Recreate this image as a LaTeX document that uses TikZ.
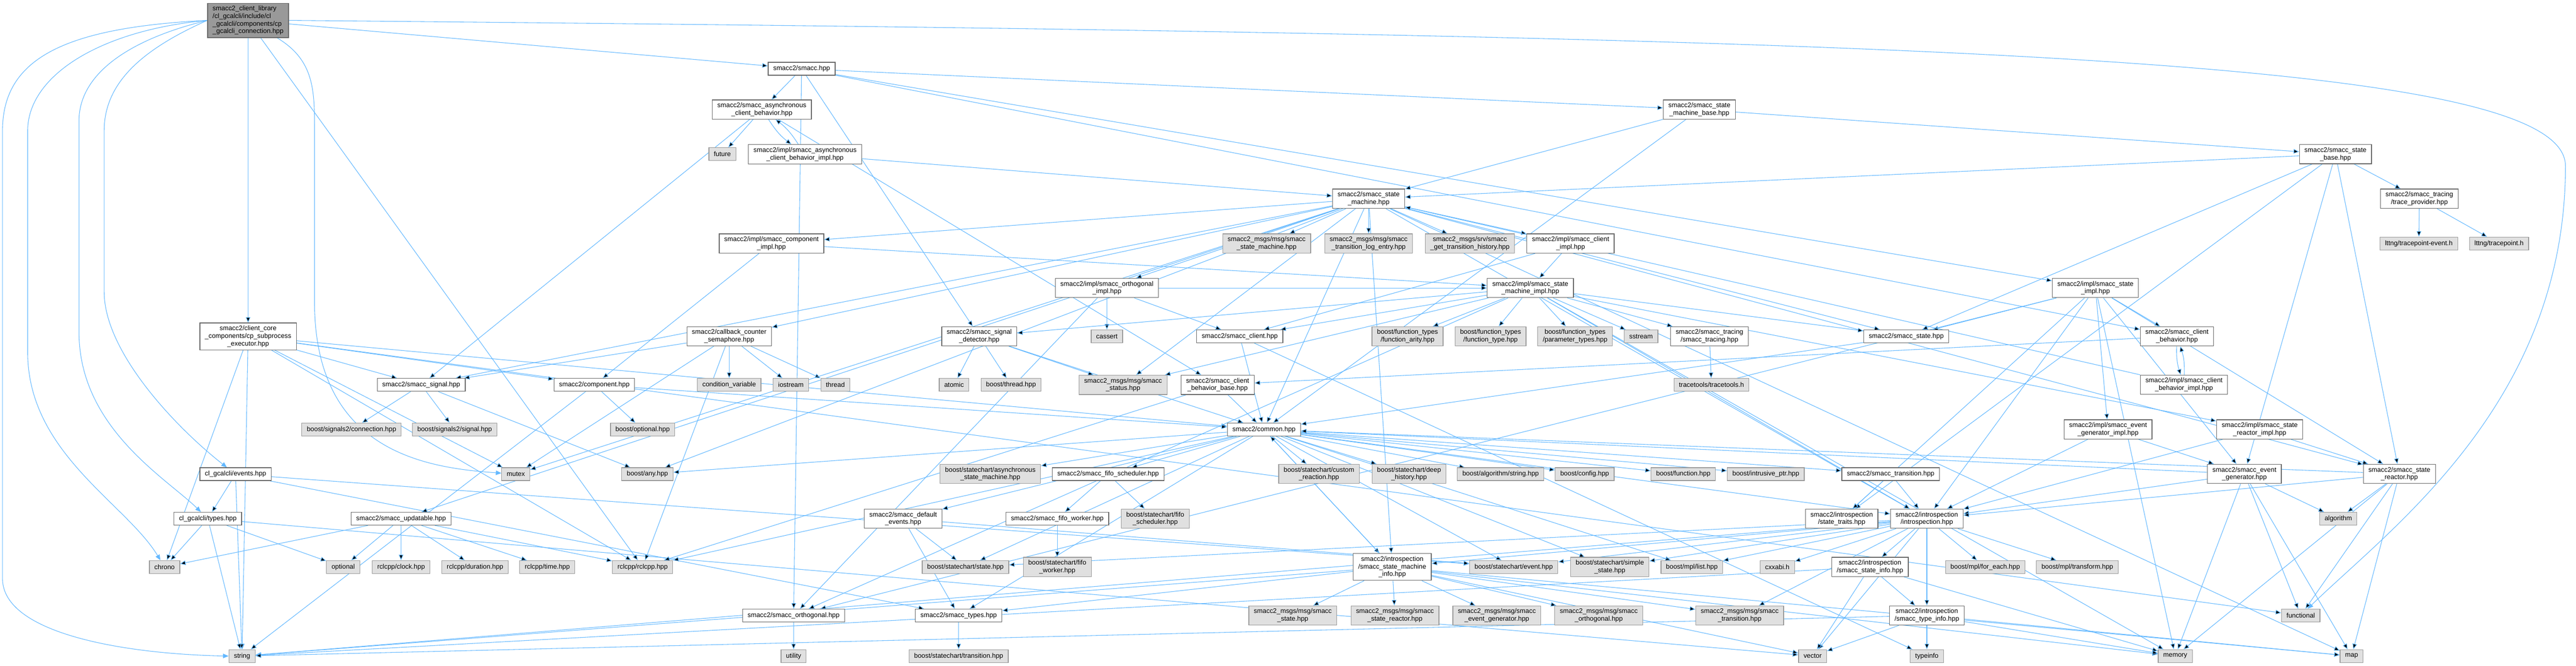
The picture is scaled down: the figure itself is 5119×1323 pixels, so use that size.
\documentclass[tikz,border=0pt]{standalone}
\usepackage{fontspec}
\setmainfont{Liberation Sans}
\usepackage{tikz}
\usetikzlibrary{arrows.meta,positioning,backgrounds}
\definecolor{nodeedge}{HTML}{666666}
\definecolor{sysfill}{HTML}{E0E0E0}
\definecolor{sysedge}{HTML}{999999}
\definecolor{rootfill}{HTML}{999999}
\definecolor{linkblue}{HTML}{63B8FF}
\newcommand{\dxfont}{\fontsize{13.2}{15}\selectfont}
\tikzset{
    block/.style = {draw=nodeedge, fill=white, rectangle, line width=1.3pt, inner xsep=10pt, inner ysep=5.5pt, minimum height=25.6pt, align=center, font=\dxfont},
    sysblock/.style = {block, draw=sysedge, fill=sysfill},
    rootblock/.style = {block, draw=nodeedge, fill=rootfill, align=left},
    arrow/.style = {draw=linkblue, line width=1.1pt, -{Triangle[length=11pt,width=9pt]}},
}
\begin{document}
\begin{tikzpicture}[x=1pt, y=-1pt]
    \useasboundingbox (0,0) rectangle (5119,1323);
    % include files
    \node [rootblock] (root) at (493,40.5) {smacc2\_client\_library\\/cl\_gcalcli/include/cl\\\_gcalcli/components/cp\\\_gcalcli\_connection.hpp};
    \node [block] (smacc) at (1593,136.8) {smacc2/smacc.hpp};
    \node [block] (asyncb) at (1514,217.7) {smacc2/smacc\_asynchronous\\\_client\_behavior.hpp};
    \node [sysblock] (future) at (1435.5,306.4) {future};
    \node [block] (asyncbimpl) at (1599.7,306.6) {smacc2/impl/smacc\_asynchronous\\\_client\_behavior\_impl.hpp};
    \node [block] (compimpl) at (1533,484) {smacc2/impl/smacc\_component\\\_impl.hpp};
    \node [block] (cbsem) at (1449,668.4) {smacc2/callback\_counter\\\_semaphore.hpp};
    \node [block] (cpsub) at (493,668.7) {smacc2/client\_core\\\_components/cp\_subprocess\\\_executor.hpp};
    \node [sysblock] (sigconn) at (698.5,853.7) {boost/signals2/connection.hpp};
    \node [sysblock] (sigsig) at (903.5,853.7) {boost/signals2/signal.hpp};
    \node [block] (signal) at (837,765) {smacc2/smacc\_signal.hpp};
    \node [block] (events) at (468,942.5) {cl\_gcalcli/events.hpp};
    \node [block] (types) at (413,1031) {cl\_gcalcli/types.hpp};
    \node [block] (updatable) at (797,1031) {smacc2/smacc\_updatable.hpp};
    \node [sysblock] (chrono) at (327,1127) {chrono};
    \node [sysblock] (optional) at (682,1127) {optional};
    \node [sysblock] (clock) at (797,1127) {rclcpp/clock.hpp};
    \node [sysblock] (string) at (481,1304) {string};
    \node [block] (component) at (1181,765) {smacc2/component.hpp};
    \node [sysblock] (condvar) at (1449,765) {condition\_variable};
    \node [sysblock] (iostream) at (1571.7,765) {iostream};
    \node [sysblock] (thread) at (1660,765) {thread};
    \node [sysblock] (boptional) at (1277,853.7) {boost/optional.hpp};
    \node [sysblock] (mutex) at (1025,942.5) {mutex};
    \node [sysblock] (bany) at (1286.5,942.5) {boost/any.hpp};
    \node [sysblock] (duration) at (944,1127) {rclcpp/duration.hpp};
    \node [sysblock] (time) at (1087.6,1127) {rclcpp/time.hpp};
    \node [sysblock] (rclcpp) at (1277,1127) {rclcpp/rclcpp.hpp};
    \node [block] (orthogonal) at (1577,1223.4) {smacc2/smacc\_orthogonal.hpp};
    \node [sysblock] (utility) at (1577,1304) {utility};
    \node [sysblock] (msgsm) at (2517,484) {smacc2\_msgs/msg/smacc\\\_state\_machine.hpp};
    \node [block] (orthimpl) at (2199.6,572.4) {smacc2/impl/smacc\_orthogonal\\\_impl.hpp};
    \node [block] (sigdet) at (1946,668.5) {smacc2/smacc\_signal\\\_detector.hpp};
    \node [sysblock] (cassert) at (2199.6,668.5) {cassert};
    \node [block] (client) at (2463.6,668.5) {smacc2/smacc\_client.hpp};
    \node [sysblock] (atomic) at (1895.8,765) {atomic};
    \node [sysblock] (bthread) at (2009,765) {boost/thread.hpp};
    \node [sysblock] (status) at (2231.7,765) {smacc2\_msgs/msg/smacc\\\_status.hpp};
    \node [block] (cbbase) at (2419.5,765) {smacc2/smacc\_client\\\_behavior\_base.hpp};
    \node [block] (common) at (2511.7,853.7) {smacc2/common.hpp};
    \node [sysblock] (asyncsm) at (1968,942) {boost/statechart/asynchronous\\\_state\_machine.hpp};
    \node [block] (fifosched) at (2202,942.5) {smacc2/smacc\_fifo\_scheduler.hpp};
    \node [block] (defevents) at (1794.6,1031) {smacc2/smacc\_default\\\_events.hpp};
    \node [block] (fifoworker) at (2101,1031) {smacc2/smacc\_fifo\_worker.hpp};
    \node [sysblock] (bfifosched) at (2295.6,1031) {boost/statechart/fifo\\\_scheduler.hpp};
    \node [sysblock] (state) at (1918.5,1127) {boost/statechart/state.hpp};
    \node [sysblock] (bfifoworker) at (2101,1127) {boost/statechart/fifo\\\_worker.hpp};
    \node [block] (stypes) at (1905,1223.4) {smacc2/smacc\_types.hpp};
    \node [sysblock] (transition) at (1905,1304) {boost/statechart/transition.hpp};
    \node [sysblock] (msgstate) at (2569,1223.4) {smacc2\_msgs/msg/smacc\\\_state.hpp};
    \node [sysblock] (custom) at (2621,942) {boost/statechart/custom\\\_reaction.hpp};
    \node [block] (smbase) at (3377,217.7) {smacc2/smacc\_state\\\_machine\_base.hpp};
    \node [block] (sm) at (2719.7,395) {smacc2/smacc\_state\\\_machine.hpp};
    \node [sysblock] (logentry) at (2719.7,484) {smacc2\_msgs/msg/smacc\\\_transition\_log\_entry.hpp};
    \node [sysblock] (gethist) at (2921,484) {smacc2\_msgs/srv/smacc\\\_get\_transition\_history.hpp};
    \node [block] (clientimpl) at (3121,484) {smacc2/impl/smacc\_client\\\_impl.hpp};
    \node [block] (smimpl) at (3041,572.4) {smacc2/impl/smacc\_state\\\_machine\_impl.hpp};
    \node [sysblock] (farity) at (2797,668.5) {boost/function\_types\\/function\_arity.hpp};
    \node [sysblock] (ftype) at (2962,668.5) {boost/function\_types\\/function\_type.hpp};
    \node [sysblock] (ptypes) at (3130,668.5) {boost/function\_types\\/parameter\_types.hpp};
    \node [sysblock] (sstream) at (3261,668.5) {sstream};
    \node [block] (tracing) at (3397,668.5) {smacc2/smacc\_tracing\\/smacc\_tracing.hpp};
    \node [sysblock] (tracetools) at (3401,765) {tracetools/tracetools.h};
    \node [sysblock] (deephist) at (2800,942) {boost/statechart/deep\\\_history.hpp};
    \node [sysblock] (algstring) at (2982,942.5) {boost/algorithm/string.hpp};
    \node [sysblock] (config) at (3149,942.5) {boost/config.hpp};
    \node [sysblock] (function) at (3345,942.5) {boost/function.hpp};
    \node [sysblock] (intrusive) at (3509,942.5) {boost/intrusive\_ptr.hpp};
    \node [block] (smtrans) at (3757,942.5) {smacc2/smacc\_transition.hpp};
    \node [block] (sminfo) at (2766.6,1127) {smacc2/introspection\\/smacc\_state\_machine\\\_info.hpp};
    \node [sysblock] (event) at (3008,1127) {boost/statechart/event.hpp};
    \node [sysblock] (simple) at (3199,1127) {boost/statechart/simple\\\_state.hpp};
    \node [sysblock] (mpllist) at (3362,1127) {boost/mpl/list.hpp};
    \node [sysblock] (msgreactor) at (2772,1223.4) {smacc2\_msgs/msg/smacc\\\_state\_reactor.hpp};
    \node [sysblock] (msgevgen) at (2974.5,1223.4) {smacc2\_msgs/msg/smacc\\\_event\_generator.hpp};
    \node [sysblock] (msgorth) at (3177,1223.4) {smacc2\_msgs/msg/smacc\\\_orthogonal.hpp};
    \node [sysblock] (msgtrans) at (3457,1223.4) {smacc2\_msgs/msg/smacc\\\_transition.hpp};
    \node [block] (sstate) at (3788,668.5) {smacc2/smacc\_state.hpp};
    \node [block] (evgenimpl) at (4189,853.5) {smacc2/impl/smacc\_event\\\_generator\_impl.hpp};
    \node [block] (traits) at (3659.7,1031) {smacc2/introspection\\/state\_traits.hpp};
    \node [block] (intro) at (3829,1031) {smacc2/introspection\\/introspection.hpp};
    \node [sysblock] (cxxabi) at (3531.8,1127) {cxxabi.h};
    \node [block] (stateinfo) at (3716,1127) {smacc2/introspection\\/smacc\_state\_info.hpp};
    \node [sysblock] (foreach) at (3945,1127) {boost/mpl/for\_each.hpp};
    \node [sysblock] (mpltransform) at (4128,1127) {boost/mpl/transform.hpp};
    \node [block] (typeinfoh) at (3829,1223.4) {smacc2/introspection\\/smacc\_type\_info.hpp};
    \node [sysblock] (vector) at (3602,1304) {vector};
    \node [sysblock] (typeinfo) at (3829,1304) {typeinfo};
    \node [block] (cb) at (4326,668.5) {smacc2/smacc\_client\\\_behavior.hpp};
    \node [block] (cbimpl) at (4340,764.7) {smacc2/impl/smacc\_client\\\_behavior\_impl.hpp};
    \node [block] (stateimpl) at (4164,572.4) {smacc2/impl/smacc\_state\\\_impl.hpp};
    \node [block] (statebase) at (4641,306.5) {smacc2/smacc\_state\\\_base.hpp};
    \node [block] (traceprov) at (4807.7,395) {smacc2/smacc\_tracing\\/trace\_provider.hpp};
    \node [sysblock] (tpevent) at (4806.6,484) {lttng/tracepoint-event.h};
    \node [sysblock] (tracepoint) at (4966,484) {lttng/tracepoint.h};
    \node [block] (srimpl) at (4490.4,853.5) {smacc2/impl/smacc\_state\\\_reactor\_impl.hpp};
    \node [block] (evgen) at (4460,942) {smacc2/smacc\_event\\\_generator.hpp};
    \node [block] (sreactor) at (4768,942) {smacc2/smacc\_state\\\_reactor.hpp};
    \node [sysblock] (algorithm) at (4646.5,1031) {algorithm};
    \node [sysblock] (functional) at (4572,1223.4) {functional};
    \node [sysblock] (memory) at (4322.6,1304) {memory};
    \node [sysblock] (map) at (4673,1304) {map};

    \begin{pgfonlayer}{background}
    % includes of the root file
    \draw [arrow] (root) edge (cpsub) edge (smacc) edge (rclcpp);
    \draw [arrow] (root.west) .. controls (120,55) and (5,120) .. (5,260) -- (5,1150) .. controls (5,1260) and (250,1300) .. (string.west);
    \draw [arrow] (root.west) .. controls (200,60) and (55,150) .. (55,260) -- (55,700) .. controls (55,900) and (250,1000) .. (chrono);
    \draw [arrow] (root.west) .. controls (250,80) and (157,150) .. (157,240) -- (157,660) .. controls (157,850) and (330,950) .. (types);
    \draw [arrow] (root.west) .. controls (290,95) and (207,160) .. (207,260) -- (207,580) .. controls (207,700) and (350,850) .. (events);
    \draw [arrow] (root) .. controls (625,120) and (625,180) .. (625,260) -- (625,600) .. controls (625,900) and (850,930) .. (mutex);
    \draw [arrow] (root.east) .. controls (3800,70) and (5098,110) .. (5098,330) .. controls (5098,800) and (4750,1050) .. (functional);
    % left part
    \draw [arrow] (cpsub) edge (signal) edge (component) edge (string) edge (chrono) edge (mutex) edge (functional) edge (common) edge (rclcpp);
    \draw [arrow] (events) edge (types) edge (string) edge (event) edge (stypes);
    \draw [arrow] (types) edge (chrono) edge (string) edge (optional) edge (vector);
    \draw [arrow] (updatable) edge (chrono) edge (optional) edge (clock) edge (duration) edge (time) edge (rclcpp);
    \draw [arrow] (signal) edge (sigconn) edge (sigsig) edge (bany);
    \draw [arrow] (component) edge (boptional) edge (string) edge (common);
    \draw [arrow] (cbsem) edge (condvar) edge (iostream) edge (thread) edge (mutex) edge (rclcpp) edge (signal);
    \draw [arrow] (asyncb) edge (future) edge [bend right=10] (asyncbimpl) edge (cbbase) edge (signal);
    \draw [arrow] (asyncbimpl) edge [bend right=10] (asyncb) edge (sm);
    \draw [arrow] (compimpl) edge (component) edge (smimpl);
    \draw [arrow] (smacc) edge (asyncb) edge (smbase) edge (orthogonal) edge (cb) edge (stateimpl) edge (sigdet);
    \draw [arrow] (orthogonal) edge (utility);
    % state machine
    \draw [arrow] (sm) edge (msgsm) edge (logentry) edge (gethist) edge (clientimpl) edge (compimpl) edge (orthimpl) edge (cbsem) edge (signal) edge (updatable) edge (mutex) edge (bany) edge (status) edge (common) edge (sminfo) edge (intro) edge (map) edge (sstate) edge (sreactor);
    \draw [arrow] (smbase) edge (sm) edge (statebase) edge (common);
    \draw [arrow] (statebase) edge (sm) edge (sstate) edge (traceprov) edge (evgen) edge (sreactor) edge (traits);
    \draw [arrow] (traceprov) edge (tpevent) edge (tracepoint);
    \draw [arrow] (sstate) edge (common);
    \draw [arrow] (stateimpl) edge (sstate) edge (traits) edge (intro) edge (cb) edge (orthogonal) edge (sreactor) edge (evgen) edge (evgenimpl) edge (memory);
    \draw [arrow] (cb) edge (cbbase) edge [bend right=10] (cbimpl);
    \draw [arrow] (cbimpl) edge [bend right=10] (cb) edge (sm);
    \draw [arrow] (cbbase) edge (common) edge (rclcpp);
    \draw [arrow] (client) edge (common) edge (typeinfo);
    \draw [arrow] (orthimpl) edge (cassert) edge (client) edge (orthogonal) edge (smimpl);
    \draw [arrow] (clientimpl) edge (smimpl) edge (client);
    \draw [arrow] (smimpl) edge (farity) edge (ftype) edge (ptypes) edge (sstream) edge (tracing) edge (intro) edge (client) edge (orthogonal) edge (sigdet) edge (sstate) edge (status) edge (memory) edge (srimpl);
    \draw [arrow] (tracing) edge (tracetools);
    \draw [arrow] (sigdet) edge (atomic) edge (bthread) edge (status) edge (common);
    % common and below
    \draw [arrow] (common) edge (asyncsm) edge (fifosched) edge (defevents) edge (state) edge (custom) edge (deephist) edge (algstring) edge (config) edge (function) edge (intrusive) edge (smtrans) edge (sminfo) edge (event) edge (simple) edge (mpllist) edge (stypes) edge (intro) edge (rclcpp) edge (bany);
    \draw [arrow] (fifosched) edge (fifoworker) edge (bfifosched);
    \draw [arrow] (fifoworker) edge (bfifoworker);
    \draw [arrow] (defevents) edge (state) edge (stypes) edge (event);
    \draw [arrow] (stypes) edge (transition);
    \draw [arrow] (sminfo) edge (msgstate) edge (msgreactor) edge (msgevgen) edge (msgorth) edge (msgtrans) edge (stypes) edge (string) edge (vector) edge (memory) edge (map) edge (common);
    \draw [arrow] (smtrans) edge (traits) edge (intro);
    \draw [arrow] (intro) edge (stateinfo) edge (typeinfoh) edge (foreach) edge (mpltransform) edge (cxxabi) edge (mpllist) edge (msgtrans) edge (vector) edge (event) edge (simple) edge (sminfo) edge (state) edge (string);
    \draw [arrow] (stateinfo) edge (typeinfoh) edge (vector) edge (string) edge (memory);
    \draw [arrow] (typeinfoh) edge (vector) edge (typeinfo) edge (string) edge (memory) edge (map);
    \draw [arrow] (evgenimpl) edge (evgen) edge (intro);
    \draw [arrow] (srimpl) edge (sreactor) edge (intro);
    \draw [arrow] (evgen) edge (algorithm) edge (functional) edge (memory) edge (map) edge (common) edge (intro);
    \draw [arrow] (sreactor) edge (algorithm) edge (functional) edge (memory) edge (map) edge (common) edge (intro);
    %\draw [arrow] (sm) -- (string);
    \end{pgfonlayer}
\end{tikzpicture}
\end{document}
